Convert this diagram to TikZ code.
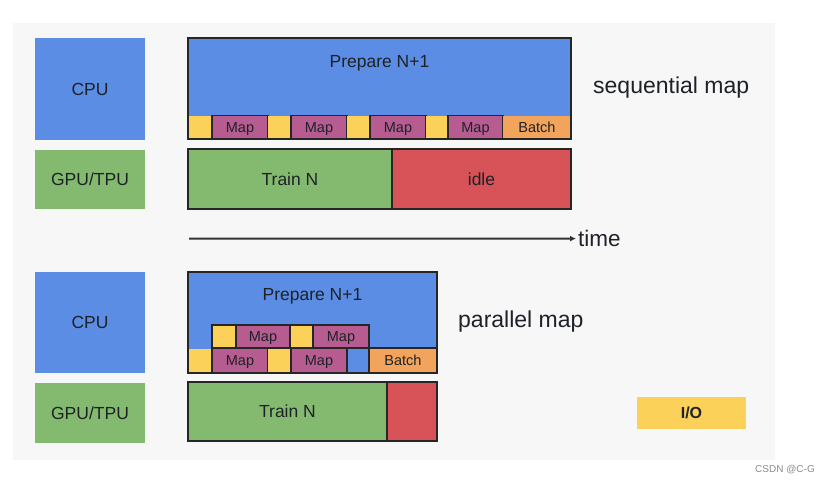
\documentclass[tikz,border=0pt]{standalone}
\usepackage{fontspec}
\setmainfont{Liberation Sans}
\usetikzlibrary{arrows.meta}
\definecolor{cpublue}{HTML}{5B8DE4}
\definecolor{gpugreen}{HTML}{84BA6F}
\definecolor{idlered}{HTML}{D75357}
\definecolor{ioyellow}{HTML}{FCD15A}
\definecolor{mapviolet}{HTML}{B65C90}
\definecolor{batchorange}{HTML}{F3A45C}
\definecolor{slidegray}{HTML}{F8F7F8}
\definecolor{ink}{HTML}{1E2228}
\tikzset{
	big/.style={font=\fontsize{17.5}{20}\selectfont, text=ink, text height=12.5pt, text depth=0pt},
	small/.style={font=\fontsize{14.5}{16}\selectfont, text=ink, text height=10.4pt, text depth=0pt},
	caption/.style={font=\fontsize{23}{26}\selectfont, text=ink, inner sep=2pt, text height=16.5pt, text depth=0pt},
	edge/.style={draw=black!85, line width=1.3pt},
}
% box with a centred label: \blk[draw options][node style](name)(x1,y1)(x2,y2){text}
\def\blk[#1][#2](#3)(#4,#5)(#6,#7)#8{\path[#1] (#4,#5) rectangle (#6,#7); \node[#2] (#3) at ({(#4+#6)/2},{(#5+#7)/2}) {#8};}

\begin{document}
\begin{tikzpicture}[x=1pt, y=-1pt]
			%%%%% SLIDE %%%%%
			\useasboundingbox[fill=white] (0,0) rectangle (825,483);
			\fill[slidegray] (13,23) rectangle (775,460);
			
			%%%%% ROW LABELS %%%%%
			\blk[fill=cpublue][big](cpuA)(35,38)(145,140){CPU}
			\blk[fill=gpugreen][big](gpuA)(35,150)(145,209){GPU/TPU}
			\blk[fill=cpublue][big](cpuB)(35,272)(145,373){CPU}
			\blk[fill=gpugreen][big](gpuB)(35,383)(145,443){GPU/TPU}
			
			%%%%% SEQUENTIAL MAP %%%%%
			\fill[cpublue] (188,38) rectangle (571,139);
			\node[big] (prepA) at (379.5,61.5) {Prepare N+1};
			\fill[ioyellow] (188,116) rectangle (212,139);
			\blk[fill=mapviolet, edge][small](mapA1)(212,115.5)(268,139){Map}
			\fill[ioyellow] (268,116) rectangle (291,139);
			\blk[fill=mapviolet, edge][small](mapA2)(291,115.5)(347,139){Map}
			\fill[ioyellow] (347,116) rectangle (370,139);
			\blk[fill=mapviolet, edge][small](mapA3)(370,115.5)(426,139){Map}
			\fill[ioyellow] (426,116) rectangle (448,139);
			\blk[fill=mapviolet, edge][small](mapA4)(448,115.5)(503,139){Map}
			\blk[fill=batchorange][small](batchA)(503,116)(571,139){Batch}
			\draw[edge] (188,38) rectangle (571,139);
			
			\blk[fill=gpugreen, edge][big](trainA)(188,149)(392,209){Train N}
			\blk[fill=idlered, edge][big](idleA)(392,149)(571,209){idle}
			
			\node[caption, anchor=west] (seqcap) at (591,85) {sequential map};
			
			%%%%% TIME AXIS %%%%%
			\coordinate (t0) at (189,238.5);
			\node[caption, font=\fontsize{22.5}{26}\selectfont, text height=16.1pt, anchor=west] (time) at (576,238.6) {time};
			\draw[line width=2pt, draw=black!80, -{Latex[length=6pt, width=6pt]}] (t0) -- (time.west);
			
			%%%%% PARALLEL MAP %%%%%
			\fill[cpublue] (188,272) rectangle (437,373);
			\node[big] (prepB) at (312.5,294.5) {Prepare N+1};
			\blk[fill=ioyellow, edge][small](ioB1)(212,325)(236,348){}
			\blk[fill=mapviolet, edge][small](mapB1)(236,325)(290,348){Map}
			\blk[fill=ioyellow, edge][small](ioB2)(290,325)(313,348){}
			\blk[fill=mapviolet, edge][small](mapB2)(313,325)(369,348){Map}
			\fill[ioyellow] (188,349) rectangle (212,373);
			\blk[fill=mapviolet, edge][small](mapB3)(212,348)(268,373){Map}
			\fill[ioyellow] (268,349) rectangle (291,373);
			\blk[fill=mapviolet, edge][small](mapB4)(291,348)(347,373){Map}
			\blk[fill=batchorange, edge][small](batchB)(369,348)(437,373){Batch}
			\draw[edge] (188,272) rectangle (437,373);
			
			\blk[fill=gpugreen, edge][big](trainB)(188,382)(387,441){Train N}
			\blk[fill=idlered, edge][big](idleB)(387,382)(437,441){}
			
			\node[caption, anchor=west] (parcap) at (456,319.5) {parallel map};
			
			%%%%% LEGEND %%%%%
			\blk[fill=ioyellow][big, font=\fontsize{16}{18}\selectfont\bfseries, text height=11.5pt](io)(637,397)(746,429){I/O}
			
			\node[font=\fontsize{10}{12}\selectfont, text=black!45] (mark) at (785,470) {CSDN @C-G};
			
			%%%%% END %%%%%
		\end{tikzpicture}
\end{document}
